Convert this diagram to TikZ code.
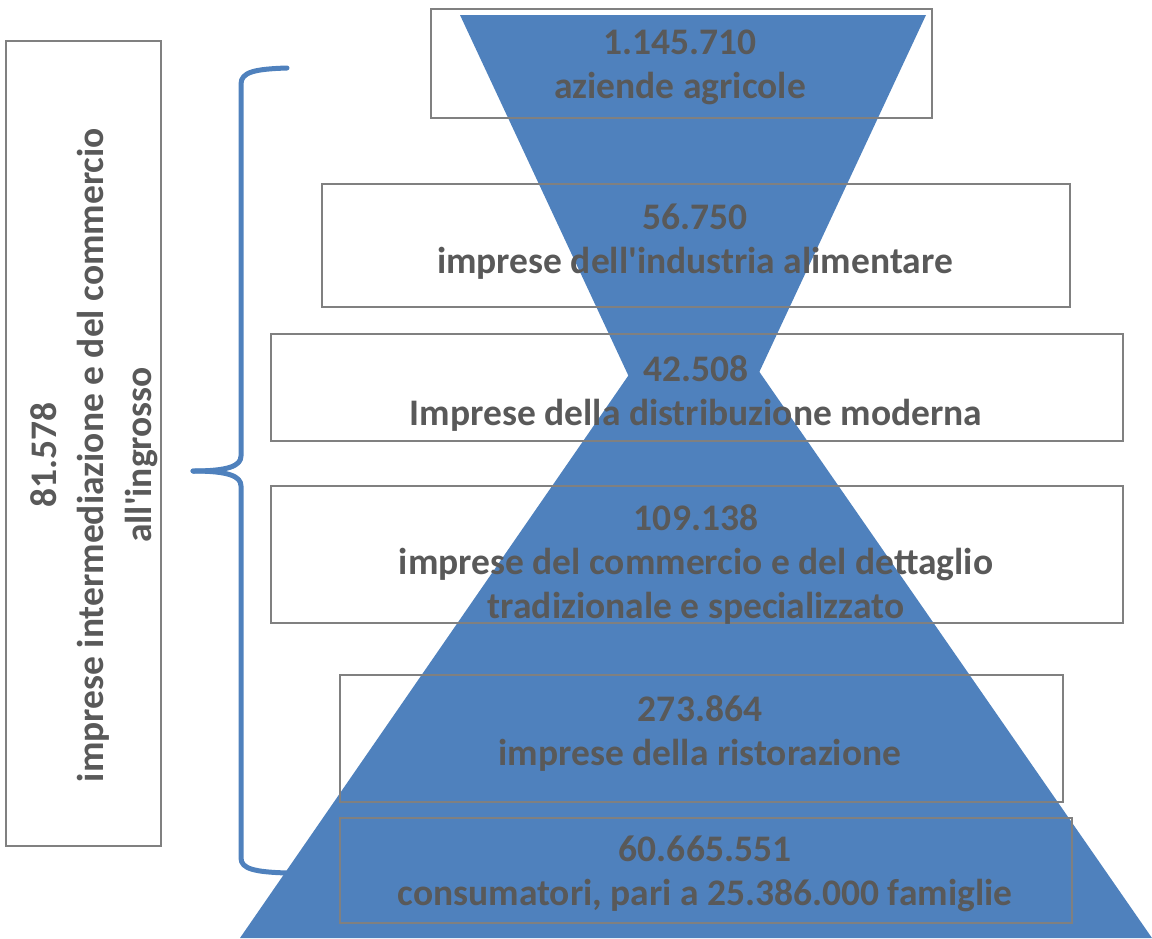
\documentclass[tikz,border=0pt]{standalone}
\usepackage{fontspec}
\setmainfont{Carlito}
\definecolor{hgblue}{HTML}{4F81BD}
\definecolor{boxgray}{HTML}{808080}
\definecolor{txtgray}{HTML}{595959}
\newcommand{\apos}{\textquotesingle}
\begin{document}
\begin{tikzpicture}[x=1pt,y=-1pt,
  frame/.style={draw=boxgray,line width=1.6pt,inner sep=0pt,anchor=north west},
  lbl/.style={text=txtgray,font=\fontsize{37.5}{44}\selectfont\bfseries,align=center,inner sep=0pt},
  brace/.style={draw=hgblue,line width=5pt,line cap=round,line join=round}]
\useasboundingbox (0,0) rectangle (1152,938);
% hourglass
\fill[hgblue] (460,15) -- (926,15) -- (693,514) -- cycle;
\fill[hgblue] (695,279) -- (1152,938) -- (240,938) -- cycle;
% boxes
\node[frame,minimum width=501pt,minimum height=109pt] (b1) at (430,8) {};
\node[frame,minimum width=748pt,minimum height=123pt] (b2) at (321,183) {};
\node[frame,minimum width=852pt,minimum height=107pt] (b3) at (270,333) {};
\node[frame,minimum width=852pt,minimum height=137pt] (b4) at (270,485) {};
\node[frame,minimum width=723pt,minimum height=127pt] (b5) at (339,674) {};
\node[frame,minimum width=732pt,minimum height=105pt] (b6) at (339,817) {};
\node[frame,minimum width=155pt,minimum height=805pt] (bl) at (5,40) {};
% texts
\node[lbl] (t1) at (680,67) {1.145.710\\aziende agricole};
\node[lbl] (t2) at (695,242) {56.750\\imprese dell\apos{}industria alimentare};
\node[lbl] (t3) at (696,393) {42.508\\Imprese della distribuzione moderna};
\node[lbl] (t4) at (696,564) {109.138\\imprese del commercio e del dettaglio\\tradizionale e specializzato};
\node[lbl] (t5) at (700,733) {273.864\\imprese della ristorazione};
\node[lbl] (t6) at (705,874) {60.665.551\\consumatori, pari a 25.386.000 famiglie};
\node[lbl,font=\fontsize{37.5}{47.5}\selectfont\bfseries,rotate=90] (tl) at (94,455) {81.578\\imprese intermediazione e del commercio\\all\apos{}ingrosso};
% brace
\coordinate (btop) at (287,68);
\coordinate (btip) at (193,471);
\coordinate (bbot) at (287,873);
\draw[brace] (btop) .. controls (255,69) and (241,72) .. (241,84) -- (241,456) .. controls (241,466) and (228,471) .. (btip);
\draw[brace] (btip) .. controls (228,471) and (241,476) .. (241,486) -- (241,858) .. controls (241,869) and (255,872) .. (bbot);
\end{tikzpicture}
\end{document}
